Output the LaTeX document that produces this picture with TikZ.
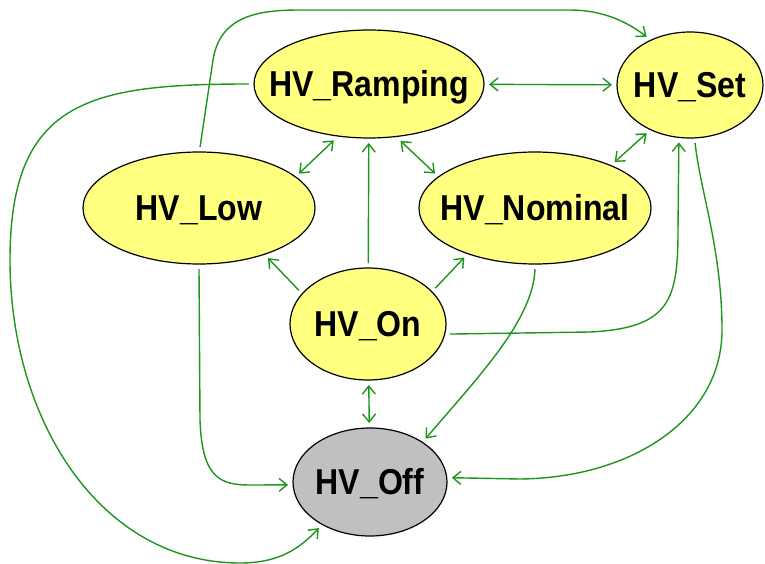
\documentclass[tikz,border=0pt]{standalone}
\usepackage{fontspec}
\usepackage{graphicx}
\setmainfont{Liberation Sans}
\usetikzlibrary{shapes.geometric,arrows.meta}
\definecolor{linegreen}{RGB}{30,150,30}
\definecolor{stateyellow}{RGB}{255,255,128}
\definecolor{stategrey}{RGB}{192,192,192}
\newcommand{\statelbl}[1]{\smash{\makebox[0pt]{\raisebox{-.358em}{\scalebox{0.89}[1]{#1}}}}}
\tikzset{
  state/.style={ellipse, draw=black, line width=1.2pt, fill=stateyellow,
    inner sep=0pt, outer sep=5pt, font=\fontsize{36}{36}\selectfont\bfseries},
  offstate/.style={state, fill=stategrey},
  conn/.style={draw=linegreen, line width=1.4pt,
    arrows={-Straight Barb[length=8pt,width=13pt]}},
  dconn/.style={conn, arrows={Straight Barb[length=8pt,width=13pt]-Straight Barb[length=8pt,width=13pt]}}
}
\begin{document}
\begin{tikzpicture}[x=1pt,y=-1pt]
\useasboundingbox (0,0) rectangle (765,564);
\fill[white] (0,0) rectangle (765,564);

\node[state, minimum width=230pt, minimum height=108pt] (R) at (369,84) {\statelbl{HV\_Ramping}};
\node[state, minimum width=146pt, minimum height=106pt] (S) at (690,85) {\statelbl{HV\_Set}};
\node[state, minimum width=232pt, minimum height=112pt] (Lo) at (199,208) {\statelbl{HV\_Low}};
\node[state, minimum width=232pt, minimum height=112pt] (N) at (535,208) {\statelbl{HV\_Nominal}};
\node[state, minimum width=156pt, minimum height=112pt] (On) at (368,324) {\statelbl{HV\_On}};
\node[offstate, minimum width=154pt, minimum height=108pt] (Off) at (370,482) {\statelbl{HV\_Off}};

% straight connectors
\draw[dconn] (R) -- (S);
\draw[dconn] (R.-122) -- (Lo.19);
\draw[dconn] (R.-61) -- (N.161);
\draw[dconn] (S.-132) -- (N.30);
\draw[conn] (On) -- (R);
\draw[conn] (On.154) -- (Lo.-36);
\draw[conn] (On.28) -- (N.-145);
\draw[dconn] (On) -- (Off);

% curved connectors
\draw[conn] (On.-7) -- (590,332) .. controls (670,328) and (678,300) .. (678,230) -- (S.-101);
\draw[conn] (N.-90) .. controls (533,320) and (480,375) .. (Off.38);
\draw[conn] (S.-85) .. controls (700,190) and (722,250) .. (722,330)
  .. controls (722,420) and (630,478) .. (520,479) -- (Off.3);
\draw[conn] (Lo.-90) -- (200,420) .. controls (202,478) and (220,485) .. (250,485) -- (Off.-178);
\draw[conn] (R.180) .. controls (90,84) and (10,100) .. (10,260)
  .. controls (10,420) and (100,563) .. (240,563)
  .. controls (280,563) and (300,548) .. (Off.-138);
\draw[conn] (Lo.89) -- (213,60) .. controls (220,15) and (260,10) .. (300,10) -- (570,10)
  .. controls (600,10) and (625,20) .. (S.132);
\end{tikzpicture}
\end{document}
